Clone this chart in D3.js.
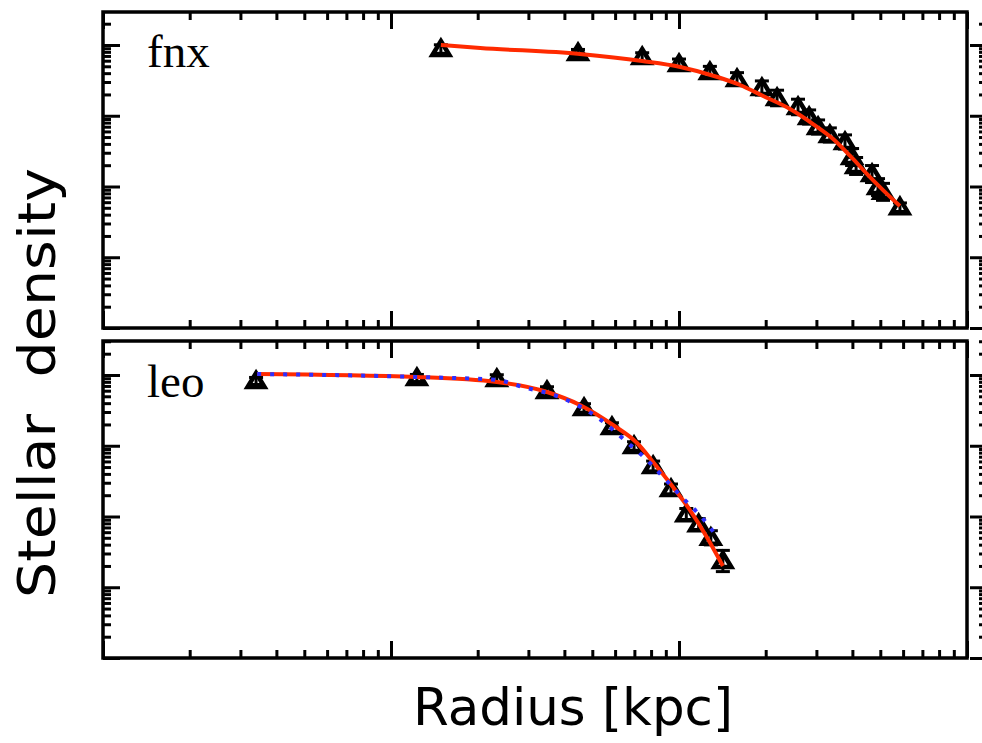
<!DOCTYPE html>
<html>
<head>
<meta charset="utf-8">
<script src="https://cdn.jsdelivr.net/npm/d3@7"></script>
<style>
  body { margin: 0; background: #fff; }
  svg { display: block; }
</style>
</head>
<body>
<svg id="chart" width="982" height="743"></svg>
<script>
// fnx profile: radius [kpc], density, error (dex)
var fnxRadius  = [0.149, 0.446, 0.745, 1.00, 1.28, 1.59, 1.94, 2.19, 2.59, 2.83, 3.04, 3.34, 3.77, 3.99, 4.12, 4.68, 4.91, 5.11, 5.85];
var fnxDensity = [8770, 7710, 6765, 5390, 4150, 3305, 2467, 1782, 1330, 960, 693, 535, 426, 261, 195, 150, 98, 84, 51];
var fnxErr     = [0.06, 0.05, 0.06, 0.07, 0.08, 0.09, 0.1, 0.11, 0.11, 0.1, 0.1, 0.1, 0.1, 0.12, 0.12, 0.12, 0.12, 0.12, 0.06];
var fnxFitR = [0.149, 0.204, 0.453, 0.745, 1.01, 1.36, 1.63, 1.96, 2.43, 2.92, 3.43, 3.93, 4.50, 5.11, 5.85];
var fnxFitD = [10000, 9070, 7460, 5940, 4890, 3530, 2720, 1900, 1245, 764, 469, 270, 150, 89, 53];

// leo profile
var leoRadius  = [0.034, 0.123, 0.233, 0.348, 0.468, 0.585, 0.698, 0.813, 0.938, 1.06, 1.17, 1.29, 1.42];
var leoDensity = [8230, 9070, 8780, 5940, 3420, 1840, 992, 517, 245, 108, 78, 50, 23.5];
var leoErr     = [0.05, 0.05, 0.06, 0.06, 0.06, 0.06, 0.06, 0.07, 0.07, 0.08, 0.08, 0.1, 0.15];
var leoFitR = [0.0343, 0.123, 0.233, 0.348, 0.453, 0.590, 0.715, 0.813, 0.953, 1.09, 1.25, 1.42];
var leoFitD = [10330, 9370, 7960, 5750, 3770, 1965, 1094, 589, 261, 124, 51, 20];
var leoAltR = [0.0343, 0.123, 0.233, 0.287, 0.393, 0.519, 0.659, 0.774, 0.894, 1.03, 1.18, 1.36];
var leoAltD = [10330, 9370, 8500, 6770, 4730, 2550, 1130, 629, 339, 183, 105, 51];

var xDomain = [0.01, 10];
var decadePx = 70.75;

var svg = d3.select('#chart');
svg.append('rect').attr('width', 982).attr('height', 743).attr('fill', 'white');

var panels = [
  {name: 'fnx', top: 12, bottom: 328, r: fnxRadius, d: fnxDensity, e: fnxErr, fits: [{r: fnxFitR, d: fnxFitD, type: 'solid'}]},
  {name: 'leo', top: 341, bottom: 658, r: leoRadius, d: leoDensity, e: leoErr,
    fits: [{r: leoFitR, d: leoFitD, type: 'solid'}, {r: leoAltR, d: leoAltD, type: 'dots'}]}
];

var left = 103, right = 967;
var x = d3.scaleLog().domain(xDomain).range([left, right]);

var majorX = [0.01, 0.1, 1, 10];
var minorX = x.ticks().filter(t => majorX.indexOf(t) < 0);

function styleAxis(g) {
  g.select('.domain').remove();
  g.selectAll('line').attr('stroke', 'black').attr('stroke-width', 3);
  g.selectAll('text').remove();
}

panels.forEach(function(p) {
  var yTop = Math.pow(10, (p.bottom - p.top) / decadePx);
  var y = d3.scaleLog().domain([1, yTop]).range([p.bottom, p.top]);
  var majorY = [1, 10, 100, 1000, 10000];
  var minorY = y.ticks().filter(t => majorY.indexOf(t) < 0 && t <= yTop);
  var g = svg.append('g').attr('class', 'panel-' + p.name);

  // ticks on all four sides, pointing inward
  [[majorX, 17], [minorX, 8]].forEach(function(s) {
    g.append('g').attr('transform', 'translate(0,' + p.top + ')')
      .call(d3.axisBottom(x).tickValues(s[0]).tickSize(s[1]).tickFormat('')).call(styleAxis);
    g.append('g').attr('transform', 'translate(0,' + p.bottom + ')')
      .call(d3.axisTop(x).tickValues(s[0]).tickSize(s[1]).tickFormat('')).call(styleAxis);
  });
  [[majorY, 17], [minorY, 8]].forEach(function(s) {
    g.append('g').attr('transform', 'translate(' + left + ',0)')
      .call(d3.axisRight(y).tickValues(s[0]).tickSize(s[1]).tickFormat('')).call(styleAxis);
    g.append('g').attr('transform', 'translate(987,0)')
      .call(d3.axisLeft(y).tickValues(s[0]).tickSize(s[1]).tickFormat('')).call(styleAxis);
  });

  g.append('rect')
    .attr('x', left).attr('y', p.top)
    .attr('width', right - left).attr('height', p.bottom - p.top)
    .attr('fill', 'none').attr('stroke', 'black').attr('stroke-width', 3.5);

  var pts = p.r.map((r, i) => ({r: r, d: p.d[i], e: p.e[i]}));

  // error bars
  var eb = g.selectAll('.err').data(pts).join('g').attr('class', 'err');
  eb.append('line')
    .attr('x1', d => x(d.r)).attr('x2', d => x(d.r))
    .attr('y1', d => y(d.d * Math.pow(10, d.e))).attr('y2', d => y(d.d / Math.pow(10, d.e)))
    .attr('stroke', 'black').attr('stroke-width', 3);
  [1, -1].forEach(function(sgn) {
    eb.append('line')
      .attr('x1', d => x(d.r) - 7).attr('x2', d => x(d.r) + 7)
      .attr('y1', d => y(d.d * Math.pow(10, sgn * d.e))).attr('y2', d => y(d.d * Math.pow(10, sgn * d.e)))
      .attr('stroke', 'black').attr('stroke-width', 3);
  });

  // triangle markers
  g.selectAll('.tri').data(pts).join('path')
    .attr('class', 'tri')
    .attr('d', 'M0,-8L8.5,6L-8.5,6Z')
    .attr('transform', d => 'translate(' + x(d.r) + ',' + y(d.d) + ')')
    .attr('fill', 'none').attr('stroke', 'black').attr('stroke-width', 4.5)
    .attr('stroke-linejoin', 'miter');

  var line = d3.line().curve(d3.curveMonotoneX).x(d => x(d[0])).y(d => y(d[1]));
  p.fits.forEach(function(f) {
    var path = g.append('path')
      .datum(f.r.map((r, i) => [r, f.d[i]]))
      .attr('d', line)
      .attr('fill', 'none');
    if (f.type == 'solid') {
      path.attr('stroke', '#ff2a00').attr('stroke-width', 4);
    } else {
      path.attr('stroke', '#2f2fff').attr('stroke-width', 4).attr('stroke-dasharray', '4,9');
    }
  });

  g.append('text')
    .attr('x', 147).attr('y', p.name == 'fnx' ? 67 : 397)
    .attr('font-family', 'Liberation Serif, serif')
    .attr('font-size', 47)
    .text(p.name);
});

svg.append('text')
  .attr('x', 573).attr('y', 725)
  .attr('text-anchor', 'middle')
  .attr('font-family', 'DejaVu Sans, sans-serif')
  .attr('font-size', 52)
  .attr('textLength', 320).attr('lengthAdjust', 'spacingAndGlyphs')
  .text('Radius [kpc]');

svg.append('text')
  .attr('transform', 'translate(55,383) rotate(-90)')
  .attr('text-anchor', 'middle')
  .attr('font-family', 'DejaVu Sans, sans-serif')
  .attr('font-size', 52)
  .style('white-space', 'pre')
  .attr('textLength', 430).attr('lengthAdjust', 'spacingAndGlyphs')
  .text('Stellar  density');
</script>
</body>
</html>
